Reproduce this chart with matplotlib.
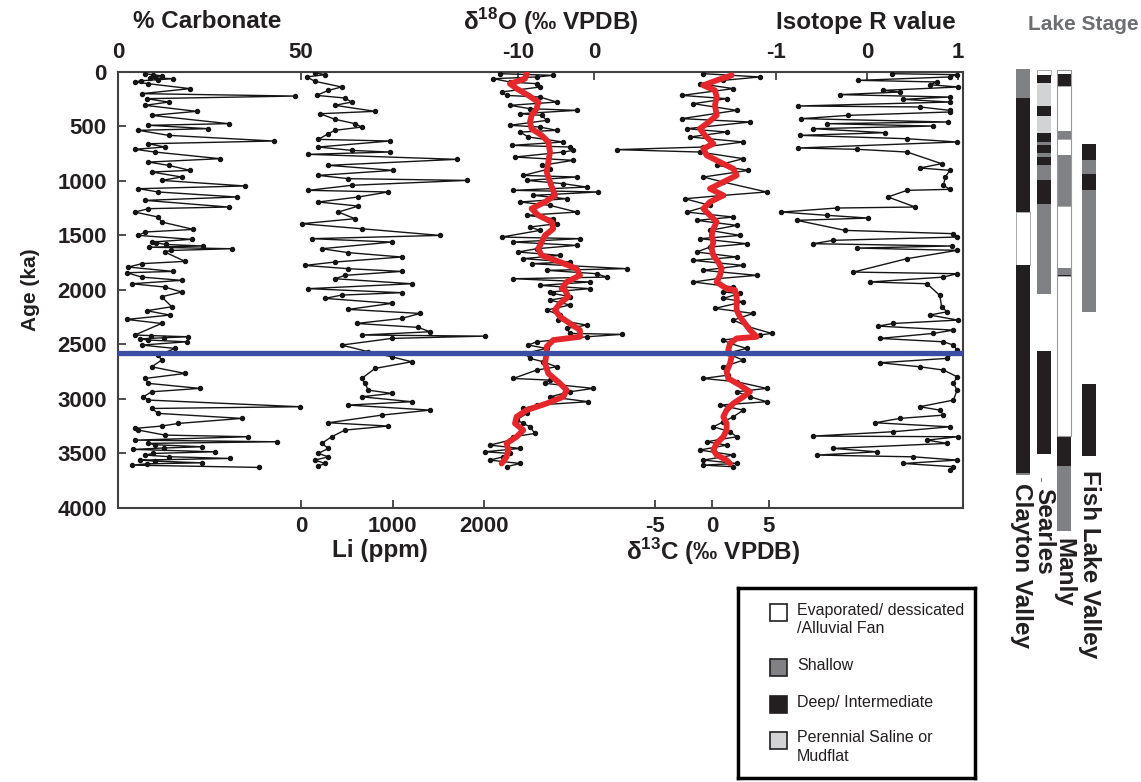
"""
Core proxies vs age, with lake stage columns
"""

import matplotlib
matplotlib.use("Agg")
import matplotlib.pyplot as plt
from matplotlib.patches import Rectangle

plt.rcParams['font.family'] = ['Liberation Sans', 'DejaVu Sans']
plt.rcParams['mathtext.fontset'] = 'custom'
plt.rcParams['mathtext.rm'] = 'Liberation Sans'
plt.rcParams['mathtext.bf'] = 'Liberation Sans:bold'

# ---- data: (age ka, value) ----
carb = [(20, 7.4), (30, 9.5), (40, 12.0), (50, 10.1), (58, 8.8), (66, 15.1), (75, 11.0), (85, 6.2),
        (96, 4.6), (112, 8.3), (157, 19.7), (203, 6.5), (225, 48.4),
        (249, 7.8), (280, 13.8), (310, 7.4), (365, 21.5), (402, 9.2), (478, 30.2), (493, 8.3), (524, 24.7),
        (539, 5.6), (585, 13.8), (637, 42.5), (662, 8.3), (692, 12.8), (713, 4.6), (738, 10.1), (799, 27.9),
        (830, 8.3), (860, 13.8), (906, 19.7), (921, 9.2), (967, 17.4), (998, 11.9), (1049, 34.7), (1074, 5.6),
        (1104, 11.0), (1150, 32.4), (1181, 7.4), (1242, 30.2), (1257, 8.3), (1288, 4.6), (1334, 11.0),
        (1379, 11.9), (1447, 20.6), (1471, 7.4), (1502, 5.6), (1538, 20.1), (1563, 9.2), (1570, 10.5),
        (1585, 13.0), (1599, 23.3), (1610, 8.5), (1624, 31.1), (1640, 14.5), (1654, 12.8), (1740, 18.3),
        (1761, 6.5), (1792, 2.8), (1832, 15.1), (1844, 2.4),
        (1884, 6.5), (1914, 17.4), (1945, 3.7), (1975, 12.8), (2021, 17.4), (2064, 11.9), (2156, 14.7),
        (2192, 7.8), (2232, 14.2), (2272, 2.4), (2309, 11.9), (2415, 4.6), (2420, 9.0), (2431, 19.2),
        (2440, 12.5), (2450, 6.0), (2461, 8.3),
        (2477, 18.8), (2507, 6.5), (2538, 15.6), (2599, 11.0), (2645, 11.9), (2706, 9.2), (2767, 18.3),
        (2813, 7.4), (2858, 8.3), (2904, 22.4), (2935, 9.2), (2981, 6.9), (3011, 8.3), (3072, 49.7),
        (3088, 9.2), (3133, 11.0), (3179, 33.8), (3225, 16.5), (3249, 11.9), (3271, 4.6), (3286, 5.6),
        (3332, 12.8), (3347, 35.6), (3378, 4.6), (3393, 43.4), (3408, 8.3), (3420, 10.0), (3439, 22.9),
        (3450, 12.5), (3463, 4.2), (3485, 26.5), (3500, 9.5), (3515, 7.4), (3530, 14.0), (3546, 30.6),
        (3561, 6.0), (3570, 10.0), (3586, 22.9), (3595, 8.0), (3607, 3.7), (3628, 38.4)]

li = [(11, 153), (29, 262), (50, 62), (90, 153), (142, 444), (173, 299), (219, 171), (243, 481), (280, 553),
      (310, 371), (365, 809), (387, 207), (438, 371), (478, 590), (509, 663), (539, 371), (570, 299),
      (622, 189), (637, 972), (692, 189), (723, 553), (738, 972), (759, 80), (805, 1701), (860, 299),
      (906, 1009), (952, 189), (982, 517), (998, 1810), (1043, 553), (1089, 80), (1104, 954), (1150, 626),
      (1196, 189), (1233, 626), (1288, 408), (1349, 590), (1395, 7), (1441, 663), (1502, 1519), (1532, 116),
      (1563, 991), (1624, 226), (1660, 517), (1700, 1100), (1746, 371), (1777, 43), (1807, 517),
      (1832, 1100), (1868, 481), (1899, 371), (1945, 1209), (1990, 80), (2027, 1100), (2049, 444),
      (2079, 262), (2125, 991), (2180, 517), (2217, 1300), (2263, 1100), (2309, 608), (2345, 1282),
      (2385, 1410), (2415, 663), (2425, 2011), (2446, 991), (2507, 444), (2568, 736), (2614, 991),
      (2660, 1209), (2721, 809), (2813, 663), (2858, 699), (2920, 736), (2950, 991), (2981, 663),
      (3026, 1209), (3057, 517), (3103, 1410), (3149, 881), (3219, 299), (3249, 954), (3286, 481),
      (3347, 335), (3408, 226), (3454, 299), (3500, 189), (3531, 299), (3561, 153), (3592, 262), (3616, 189)]

d18o = [(20, -12.37), (35, -5.36), (50, -7.55), (66, -13.25), (96, -11.06), (112, -7.55), (142, -7.11),
        (188, -12.15), (219, -11.5), (234, -7.11), (280, -4.92), (310, -11.06), (341, -8.43), (356, -2.28),
        (387, -9.74), (402, -6.89), (448, -6.23), (493, -11.06), (509, -7.11), (539, -4.92), (555, -9.74),
        (600, -8.64), (646, -4.04), (677, -10.84), (692, -3.16), (723, -2.72), (738, -4.04), (784, -10.4),
        (814, -2.72), (860, -6.89), (891, -5.79), (952, -9.3), (967, -2.28), (998, -8.86), (1028, -4.04),
        (1059, -0.97), (1089, -10.62), (1104, 0.57), (1135, -7.99), (1166, -3.6), (1196, -9.74),
        (1227, -5.79), (1288, -2.28), (1318, -8.86), (1349, -5.36), (1395, -4.92), (1425, -8.43),
        (1456, -7.11), (1517, -12.15), (1532, -1.85), (1563, -10.62), (1593, -2.28), (1624, -7.55),
        (1654, -9.96), (1685, -4.48), (1715, -9.3), (1746, -3.16), (1761, -8.21), (1807, 4.29), (1822, -6.23),
        (1853, 0.35), (1884, 1.66), (1899, -10.62), (1929, -0.53), (1960, -7.11), (1990, -0.53),
        (2021, -5.79), (2034, -5.36), (2064, -3.16), (2095, -5.79), (2140, -3.16), (2186, -6.23),
        (2232, -4.48), (2278, -4.7), (2324, -0.97), (2354, -3.6), (2400, -3.16), (2409, 3.64), (2431, -0.97),
        (2477, -7.55), (2507, -8.64), (2538, -6.23), (2583, -9.08), (2629, -8.43), (2660, -6.67),
        (2706, -4.92), (2736, -7.55), (2813, -10.62), (2828, -5.79), (2858, -6.45), (2904, -0.09),
        (2935, -3.16), (2981, -5.79), (3026, -0.75), (3057, -7.55), (3088, -9.3), (3133, -8.86),
        (3194, -10.18), (3225, -9.3), (3256, -8.43), (3317, -7.77), (3347, -10.62), (3378, -11.06),
        (3424, -13.69), (3454, -9.74), (3485, -14.35), (3500, -11.06), (3531, -11.94), (3561, -13.69),
        (3592, -9.74), (3622, -11.5)]

d18o_smooth = [(20, -8.86), (66, -9.08), (112, -11.06), (157, -10.18), (219, -8.64), (280, -7.33),
               (341, -7.55), (402, -8.21), (463, -8.43), (524, -8.21), (585, -6.89), (646, -6.01),
               (738, -5.79), (830, -6.01), (921, -6.23), (1013, -5.79), (1135, -5.14), (1196, -6.45),
               (1257, -8.21), (1318, -7.33), (1379, -5.57), (1441, -5.36), (1502, -6.45), (1563, -6.89),
               (1624, -7.33), (1685, -6.89), (1746, -4.48), (1807, -2.28), (1868, -1.85), (1929, -3.6),
               (1990, -4.26), (2003, -3.82), (2064, -3.38), (2125, -4.48), (2186, -5.14), (2247, -4.48),
               (2309, -3.16), (2370, -1.85), (2431, -1.85), (2461, -5.36), (2522, -6.23), (2583, -6.23),
               (2675, -6.45), (2767, -6.01), (2858, -4.48), (2920, -3.6), (2981, -4.04), (3042, -6.23),
               (3103, -8.86), (3164, -10.18), (3225, -10.4), (3286, -9.3), (3347, -10.18), (3408, -11.5),
               (3469, -11.28), (3531, -11.5), (3592, -12.15)]

d13c = [(20, -0.76), (50, 4.21), (81, 0.99), (112, -1.06), (157, 1.87), (219, -2.66), (249, 1.28),
        (295, -1.64), (356, 2.16), (432, -2.66), (463, 3.33), (524, -2.22), (555, 1.28), (600, -1.93),
        (646, 2.75), (692, -0.76), (716, -8.36), (738, -1.06), (799, 2.75), (860, 0.41), (906, 3.19),
        (967, -0.76), (1013, 0.99), (1104, 4.79), (1135, 0.99), (1166, -2.37), (1227, -0.18), (1288, -2.22),
        (1334, 1.87), (1364, -1.35), (1410, 2.16), (1456, -0.18), (1502, 2.45), (1532, -1.06), (1578, 3.04),
        (1609, -0.18), (1654, -1.35), (1700, 2.16), (1731, -1.64), (1777, 2.75), (1822, -0.76), (1868, 3.92),
        (1899, 0.41), (1929, -1.64), (1975, 1.87), (2021, 0.99), (2034, 2.45), (2079, 0.99), (2110, 2.75),
        (2171, 0.26), (2217, 3.62), (2278, 1.87), (2339, 3.19), (2400, 5.23), (2415, 4.21), (2461, 0.99),
        (2492, 1.58), (2538, 3.04), (2583, 1.28), (2645, 2.75), (2706, 0.99), (2782, 1.43), (2813, -0.76),
        (2843, 2.16), (2904, 4.79), (2935, 2.16), (2981, 3.33), (3026, 4.79), (3057, 0.70), (3103, 2.75),
        (3164, 1.87), (3210, 0.99), (3256, 0.12), (3301, 1.58), (3347, 2.16), (3393, -0.47), (3424, 1.28),
        (3469, -1.06), (3515, 1.87), (3561, -0.76), (3592, 2.16), (3607, -0.76), (3622, 1.87)]

d13c_smooth = [(35, 1.72), (81, 0.41), (127, -0.76), (173, 0.26), (234, 0.41), (310, 0.26), (402, 0.41),
               (478, -0.47), (524, -1.06), (585, -0.62), (662, 0.12), (707, -0.76), (768, -0.47), (830, 0.70),
               (891, 1.87), (952, 2.16), (1013, 0.99), (1074, -0.18), (1135, 0.99), (1196, -0.18),
               (1257, -0.76), (1318, -0.18), (1379, 0.41), (1441, 0.12), (1502, -0.03), (1563, 0.12),
               (1624, -0.03), (1685, 0.12), (1746, 0.55), (1807, 0.85), (1868, 0.70), (1929, 0.41),
               (1990, 1.28), (2003, 2.02), (2064, 2.16), (2125, 2.16), (2186, 2.16), (2247, 2.45),
               (2309, 2.89), (2370, 3.33), (2431, 3.92), (2446, 2.16), (2492, 1.58), (2553, 1.43),
               (2614, 1.72), (2675, 1.58), (2751, 1.28), (2813, 1.43), (2874, 2.45), (2935, 3.33),
               (2981, 2.75), (3042, 1.87), (3103, 1.28), (3164, 0.99), (3225, 1.28), (3286, 1.28),
               (3347, 0.99), (3408, 0.41), (3469, 0.12), (3515, 0.41), (3561, 1.28), (3592, 1.58)]

r_value = [(20, 0.27), (29, 0.99), (50, 0.91), (81, -0.095), (96, 0.77), (121, 0.69), (142, 1.0), (173, 0.18),
           (188, 0.36), (212, -0.30), (234, 0.91), (255, 0.40), (280, 0.91), (316, -0.755), (325, 0.58),
           (356, 0.91), (371, 0.91), (402, -0.205), (432, -0.72), (463, 0.89), (478, -0.44), (500, 0.73),
           (524, -0.59), (561, 0.20), (585, -0.74), (616, 0.44), (646, 0.99), (701, -0.755), (713, -0.11),
           (738, 0.44), (845, 0.82), (884, 0.58), (906, 0.91), (967, 0.86), (1043, 0.84), (1080, 0.91),
           (1089, 0.44), (1150, 0.23), (1242, 0.53), (1251, -0.33), (1288, -0.94), (1318, -0.44),
           (1343, 0.015), (1364, -0.77), (1456, -0.24), (1486, 0.95), (1517, 0.99), (1547, -0.37),
           (1578, -0.59), (1599, 0.93), (1618, -0.11), (1639, 0.99), (1715, 0.44), (1838, -0.15),
           (1853, 0.99), (1884, 0.84), (1929, 0.03), (1945, 0.66), (2052, 0.80), (2156, 0.82), (2202, 0.88),
           (2232, 0.69), (2278, 1.0), (2309, 0.29), (2333, 0.12), (2370, 0.95), (2400, 0.73), (2446, 0.14),
           (2477, 0.84), (2507, 0.95), (2553, 0.99), (2629, 0.88), (2669, 0.14), (2706, 0.58), (2736, 0.84),
           (2797, 0.99), (2858, 0.95), (2920, 0.99), (3011, 0.95), (3072, 0.58), (3103, 0.80), (3149, 0.84),
           (3179, 0.36), (3219, 0.09), (3256, 0.91), (3301, 0.29), (3341, -0.59), (3347, 1.0), (3378, 0.66),
           (3408, 0.88), (3454, -0.37), (3485, 0.11), (3515, -0.55), (3531, 0.51), (3561, 0.99), (3592, 0.40),
           (3622, 0.95), (3653, 0.91)]

boundary_age = 2580

# lake stages: E evaporated, S shallow, D deep, P perennial saline
stage_names = ["Evaporated/ dessicated\n/Alluvial Fan", "Shallow", "Deep/ Intermediate",
               "Perennial Saline or\nMudflat"]
stage_codes = ["E", "S", "D", "P"]
stage_colors = {"E": "white", "S": "#808184", "D": "#231f20", "P": "#d1d3d4"}

clayton = [(-20, 246, "S"), (246, 1290, "D"), (1290, 1774, "E"), (1774, 3680, "D"), (3680, 3699, "S")]
searles = [(-14, 32, "E"), (32, 108, "D"), (108, 316, "P"), (316, 408, "D"), (408, 561, "P"), (561, 643, "D"),
           (643, 674, "S"), (674, 744, "D"), (744, 781, "S"), (781, 857, "D"), (857, 994, "S"),
           (994, 1217, "D"), (1217, 2039, "S"), (2562, 3506, "D")]
manly = [(-14, 23, "E"), (23, 133, "D"), (133, 545, "E"), (545, 621, "S"), (621, 765, "E"), (765, 1230, "S"),
         (1230, 1804, "E"), (1804, 1866, "S"), (1866, 1874, "D"), (1874, 3341, "E"), (3341, 3613, "D"),
         (3613, 4209, "S")]
fish_lake = [(665, 811, "D"), (811, 940, "S"), (940, 1086, "D"), (1086, 2202, "S"), (2864, 3524, "D")]

lakes = ["Clayton Valley", "Searles", "Manly", "Fish Lake Valley"]

# ---- layout (pixels of a 1141 x 782 canvas) ----
W, H = 1141, 782
L, R, T, B = 118, 963, 71.5, 508
INK = "#231f20"


def fx(x):
    return x / W


def fy(y):
    return 1 - y / H


fig = plt.figure(figsize=(W / 100, H / 100), dpi=100)
ax = fig.add_axes([fx(L), fy(B), (R - L) / W, (B - T) / H])
ax.set_ylim(4000, 0)
ax.set_xlim(0, 1)
ax.set_xticks([])
yt = list(range(0, 4001, 500))
ax.set_yticks(yt, labels=[str(v) for v in yt], fontweight="bold", fontsize=16, color=INK)
ax.tick_params(axis="y", direction="in", length=6, width=1.3, pad=8, color="#404040")
for sp in ax.spines.values():
    sp.set_linewidth(1.5)
    sp.set_color("#404040")


def series_axis(v1, p1, v2, p2, ticks, side):
    a = ax.twiny()
    s = (p2 - p1) / (v2 - v1)
    a.set_xlim(v1 - (p1 - L) / s, v1 + (R - p1) / s)
    a.xaxis.set_ticks_position(side)
    a.set_xticks(ticks, labels=[str(t) for t in ticks], fontweight="bold", fontsize=16, color=INK)
    a.tick_params(axis="x", direction="in", length=6, width=1.3, pad=6, color="#404040")
    for sp in a.spines.values():
        sp.set_visible(False)
    a.patch.set_visible(False)
    return a


def draw(a, pts, **kw):
    ages, vals = zip(*pts)
    a.plot(vals, ages, **kw)


raw = dict(color="#151515", lw=1.0, marker="o", ms=2.9, zorder=3)
smooth = dict(color="#e5262b", lw=4.2, solid_capstyle="round", solid_joinstyle="round", zorder=4)

a_carb = series_axis(0, 118, 50, 301, [0, 50], "top")
draw(a_carb, carb, **raw)

a_li = series_axis(0, 301, 1000, 392.5, [0, 1000, 2000], "bottom")
draw(a_li, li, **raw)

a_o = series_axis(-10, 518, 0, 594, [-10, 0], "top")
draw(a_o, d18o, **raw)
draw(a_o, d18o_smooth, **smooth)

a_c = series_axis(-5, 655, 5, 769, [-5, 0, 5], "bottom")
draw(a_c, d13c, **raw)
draw(a_c, d13c_smooth, **smooth)

a_r = series_axis(-1, 776, 1, 958, [-1, 0, 1], "top")
draw(a_r, r_value, **raw)
a_r.axhline(boundary_age, color="#3a4ea4", lw=3.8, zorder=6)

# axis titles
title_kw = dict(ha="center", va="center", fontsize=17.5, fontweight="bold", color=INK)
fig.text(fx(207), fy(22), "% Carbonate", **title_kw)
fig.text(fx(551), fy(22), r"δ$^{\mathbf{18}}$O (‰ VPDB)", **title_kw)
fig.text(fx(866), fy(22), "Isotope R value", **title_kw)
fig.text(fx(1083), fy(25), "Lake Stage", ha="center", va="center", fontsize=15, fontweight="bold",
         color="#6d6e71")
fig.text(fx(380), fy(551), "Li (ppm)", **title_kw)
fig.text(fx(713), fy(552), r"δ$^{\mathbf{13}}$C (‰ VPDB)", **title_kw)
fig.text(fx(30), fy(290), "Age (ka)", rotation=90, ha="center", va="center", fontsize=15,
         fontweight="bold", color=INK)

# lake stage columns
lax = fig.add_axes([fx(1000), fy(B), 110 / W, (B - T) / H])
lax.set_xlim(1000, 1110)
lax.set_ylim(4000, 0)
lax.axis("off")
columns = [(1016, clayton), (1037, searles), (1057, manly), (1082, fish_lake)]
col_w = 14
lax.add_patch(Rectangle((1057, -14), col_w, 3341 + 14, fill=False, edgecolor="#9a9a9a", lw=0.8,
                        clip_on=False, zorder=3))
for x0, segs in columns:
    for start, end, code in segs:
        lax.add_patch(Rectangle((x0, start), col_w, end - start, facecolor=stage_colors[code],
                                edgecolor="#9a9a9a" if code == "E" else "none", lw=0.6, clip_on=False))
lax.add_patch(Rectangle((1040.5, 3726), 1.2, 37, facecolor="#808184", edgecolor="none", clip_on=False))

label_pos = [(1021, 483), (1044, 488), (1064, 538), (1089, 470)]
for name, (x, y) in zip(lakes, label_pos):
    fig.text(fx(x), fy(y), name, rotation=270, ha="center", va="top", fontsize=17.5,
             fontweight="bold", color=INK)

# legend
lg = fig.add_axes([fx(738), fy(778), 237 / W, 190 / H])
lg.set_xlim(0, 237)
lg.set_ylim(190, 0)
lg.set_xticks([])
lg.set_yticks([])
for sp in lg.spines.values():
    sp.set_linewidth(2.5)
    sp.set_color("black")
rows = [24, 79, 116, 152]
for name, code, yc in zip(stage_names, stage_codes, rows):
    lg.add_patch(Rectangle((32, yc - 8.5), 17, 17, facecolor=stage_colors[code], edgecolor=INK, lw=1.2))
    lg.text(59, yc - 9.5, name, ha="left", va="top", fontsize=11.5, color=INK, linespacing=1.3)

fig.savefig("out.png", dpi=100)
